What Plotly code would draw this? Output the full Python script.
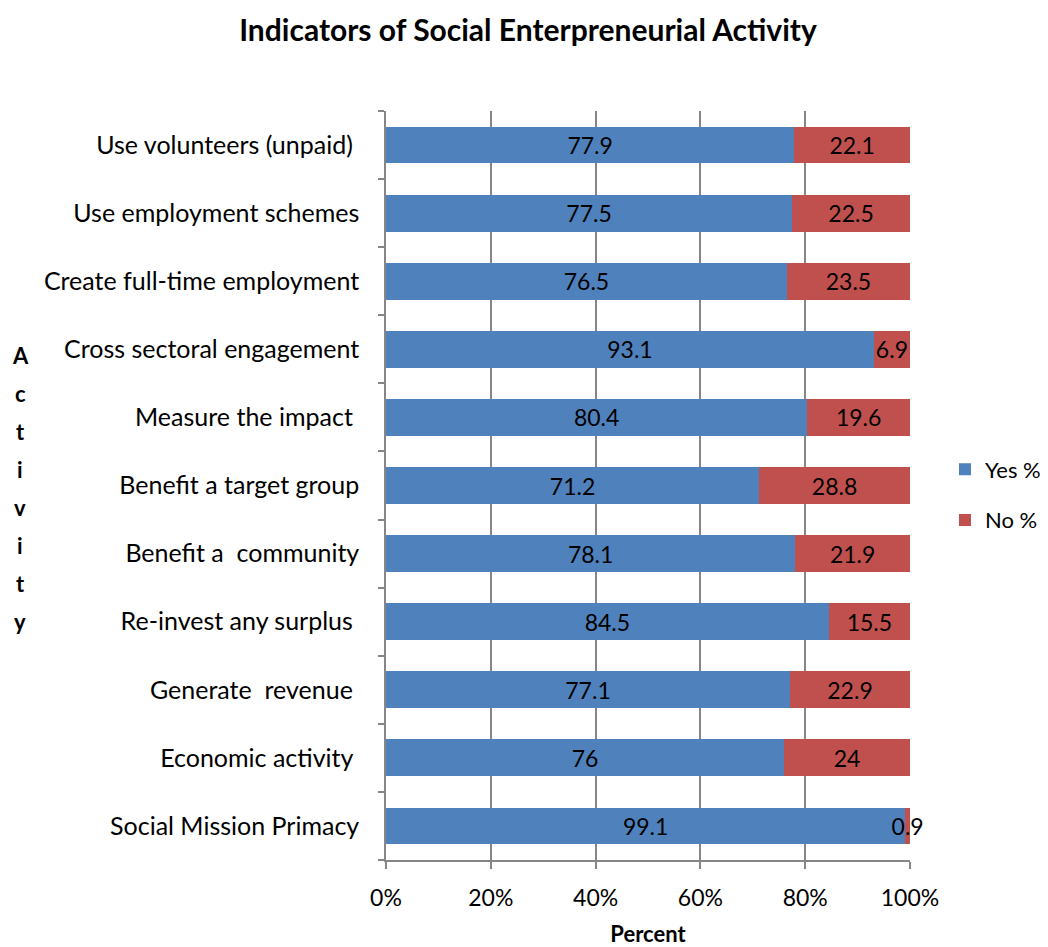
import plotly.graph_objects as go

categories = ["Social Mission Primacy", "Economic activity ", "Generate  revenue ",
              "Re-invest any surplus ", "Benefit a  community", "Benefit a target group",
              "Measure the impact ", "Cross sectoral engagement", "Create full-time employment",
              "Use employment schemes", "Use volunteers (unpaid) "]
yes_pct = [99.1, 76, 77.1, 84.5, 78.1, 71.2, 80.4, 93.1, 76.5, 77.5, 77.9]
no_pct = [0.9, 24, 22.9, 15.5, 21.9, 28.8, 19.6, 6.9, 23.5, 22.5, 22.1]
x_ticks = [0, 20, 40, 60, 80, 100]
x_tick_labels = ["0%", "20%", "40%", "60%", "80%", "100%"]
y_title_letters = list("Activity")

FONT = "Lato"
W, H = 1040, 939          # page body has an 8px margin
L, T, R, B = 378, 103, 138, 87
PW, PH = W - L - R, H - T - B

fig = go.Figure()
fig.add_trace(go.Bar(y=categories, x=yes_pct, orientation="h", name="Yes %",
                     marker=dict(color="#4F81BD", line=dict(width=0)),
                     text=[str(v) for v in yes_pct], textposition="inside",
                     insidetextanchor="middle", textangle=0,
                     textfont=dict(color="black", size=23, family=FONT),
                     legendgroup="a"))
fig.add_trace(go.Bar(y=categories, x=no_pct, orientation="h", name="No %",
                     marker=dict(color="#C0504D", line=dict(width=0)),
                     text=[str(v) for v in no_pct], textposition="inside",
                     insidetextanchor="middle", textangle=0, cliponaxis=False,
                     textfont=dict(color="black", size=23, family=FONT),
                     legendgroup="b"))

fig.update_layout(
    barmode="stack", bargap=0.46,
    width=W, height=H,
    margin=dict(l=L, r=R, t=T, b=B, autoexpand=False),
    paper_bgcolor="white", plot_bgcolor="white",
    font=dict(family=FONT, size=22, color="black"),
    uniformtext=dict(minsize=23, mode="show"),
    title=dict(text="<b>Indicators of Social Enterpreneurial Activity</b>",
               x=0.5, xanchor="center", y=1 - 22 / H, yanchor="middle",
               font=dict(size=30, family=FONT)),
    legend=dict(x=(937 - L) / PW, y=(PH + T - 487) / PH, xanchor="left", yanchor="middle",
                font=dict(size=22, family=FONT), tracegroupgap=19,
                itemwidth=30, bgcolor="rgba(0,0,0,0)"),
    showlegend=True,
)
fig.update_xaxes(range=[0, 100], tickvals=x_ticks, ticktext=x_tick_labels,
                 showgrid=True, gridcolor="#868686", gridwidth=1.5,
                 showline=True, linecolor="#868686", linewidth=1.5,
                 ticks="outside", ticklen=7, tickcolor="#868686", tickwidth=1.5,
                 tickfont=dict(size=23), zeroline=False, ticklabelstandoff=10,
                 title=dict(text="<b>Percent</b>", font=dict(size=22), standoff=18))
fig.update_yaxes(showline=True, linecolor="#868686", linewidth=1.5,
                 ticks="outside", ticklen=6, tickcolor="#868686", tickwidth=1.5,
                 tickson="boundaries", showgrid=False,
                 ticklabelstandoff=20, tickfont=dict(size=25))

for i, ch in enumerate(y_title_letters):
    py = 355 + 38.1 * i - 8
    fig.add_annotation(text="<b>%s</b>" % ch, xref="paper", yref="paper",
                       x=(12 - L) / PW, y=(PH + T - py) / PH,
                       xanchor="center", yanchor="middle", showarrow=False,
                       font=dict(size=22, family=FONT))

fig.write_html("out.html")
